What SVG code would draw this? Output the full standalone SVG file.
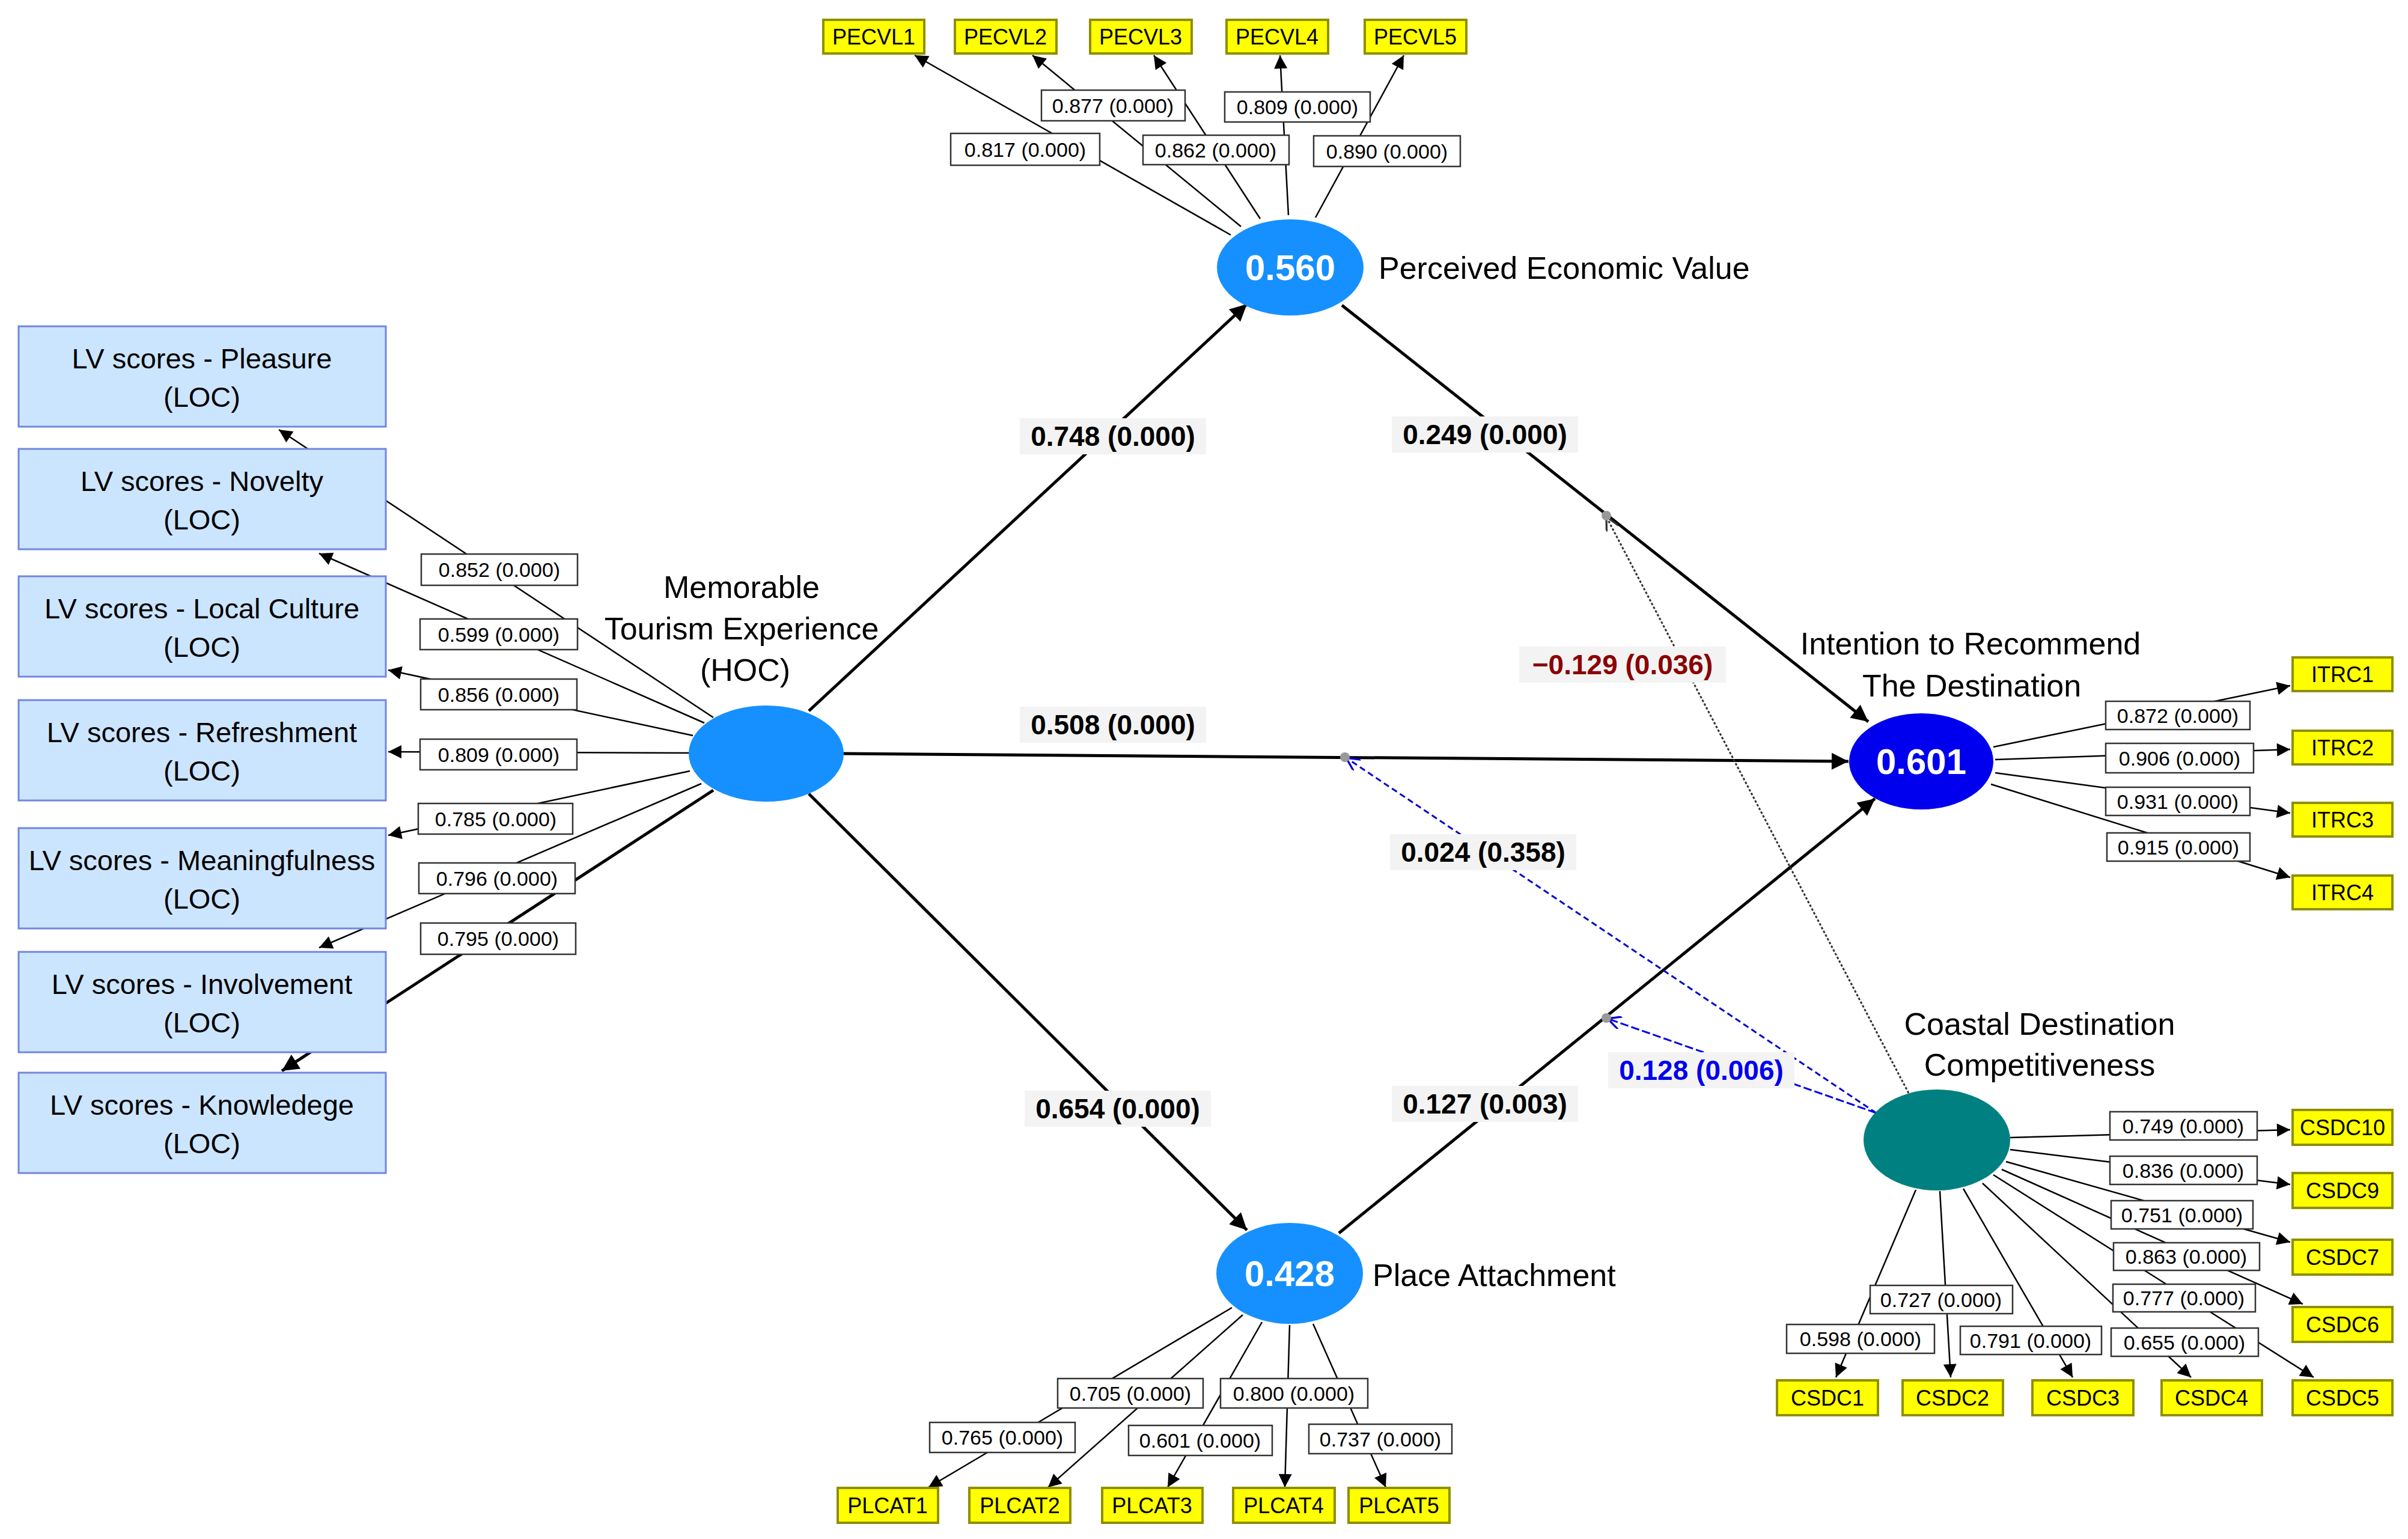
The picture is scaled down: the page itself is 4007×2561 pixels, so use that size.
<svg xmlns="http://www.w3.org/2000/svg" width="4007" height="2561" viewBox="0 0 4007 2561">
<defs>
<marker id="a" viewBox="0 0 10 10" refX="10" refY="5" markerWidth="30" markerHeight="22" markerUnits="userSpaceOnUse" orient="auto"><path d="M0,0 L10,5 L0,10 z" fill="#000"/></marker>
<marker id="b" viewBox="0 0 10 10" refX="10" refY="5" markerWidth="42" markerHeight="28" markerUnits="userSpaceOnUse" orient="auto"><path d="M0,0 L10,5 L0,10 z" fill="#000"/></marker>
<marker id="c" viewBox="0 0 10 10" refX="10" refY="5" markerWidth="30" markerHeight="22" markerUnits="userSpaceOnUse" orient="auto"><path d="M0,0 L10,5 L0,10" fill="none" stroke="#0000cc" stroke-width="1.5"/></marker>
<marker id="d" viewBox="0 0 10 10" refX="10" refY="5" markerWidth="30" markerHeight="22" markerUnits="userSpaceOnUse" orient="auto"><path d="M0,0 L10,5 L0,10" fill="none" stroke="#333" stroke-width="1.5"/></marker>
</defs>
<style>
text{font-family:"Liberation Sans",Arial,sans-serif;fill:#000}
.t{stroke:#000;stroke-width:2.5;fill:none;marker-end:url(#a)}
.k{stroke:#000;stroke-width:5;fill:none;marker-end:url(#b)}
.lb rect{fill:#fff;stroke:#333;stroke-width:2.5}
.lb text{font-size:34px;text-anchor:middle;dominant-baseline:central}
.pl rect{fill:#f3f3f3}
.pl text{font-size:46px;font-weight:bold;text-anchor:middle;dominant-baseline:central}
.lv rect{fill:#cce5ff;stroke:#7086e0;stroke-width:3}
.lv text{font-size:47px;text-anchor:middle;dominant-baseline:central}
.ind rect{fill:#ffff00;stroke:#8f8f00;stroke-width:4}
.ind text{font-size:36px;text-anchor:middle;dominant-baseline:central}
.r2{font-size:60px;font-weight:bold;fill:#fff;text-anchor:middle;dominant-baseline:central}
.nl{font-size:52px}
</style>
<rect width="4007" height="2561" fill="#fff"/>
<g id="connectors">
<line class="t" x1="1187" y1="1194" x2="464" y2="715"/>
<line class="t" x1="1172" y1="1203" x2="531" y2="921"/>
<line class="t" x1="1153" y1="1224" x2="646" y2="1115"/>
<line class="t" x1="1148" y1="1253" x2="646" y2="1251"/>
<line class="t" x1="1148" y1="1283" x2="646" y2="1390"/>
<line class="t" x1="1167" y1="1304" x2="531" y2="1577"/>
<line class="k" x1="1187" y1="1315" x2="469" y2="1782"/>
<line class="t" x1="2048" y1="391" x2="1522" y2="92"/>
<line class="t" x1="2065" y1="377" x2="1718" y2="92"/>
<line class="t" x1="2097" y1="364" x2="1920" y2="92"/>
<line class="t" x1="2144" y1="358" x2="2130" y2="92"/>
<line class="t" x1="2189" y1="362" x2="2336" y2="92"/>
<line class="t" x1="3317" y1="1243" x2="3811" y2="1141"/>
<line class="t" x1="3320" y1="1264" x2="3811" y2="1247"/>
<line class="t" x1="3320" y1="1286" x2="3811" y2="1353"/>
<line class="t" x1="3313" y1="1305" x2="3811" y2="1460"/>
<line class="t" x1="3345" y1="1893" x2="3811" y2="1880"/>
<line class="t" x1="3345" y1="1913" x2="3811" y2="1971"/>
<line class="t" x1="3338" y1="1933" x2="3811" y2="2067"/>
<line class="t" x1="3331" y1="1946" x2="3832" y2="2170"/>
<line class="t" x1="3317" y1="1955" x2="3850" y2="2292"/>
<line class="t" x1="3299" y1="1969" x2="3646" y2="2292"/>
<line class="t" x1="3267" y1="1978" x2="3449" y2="2292"/>
<line class="t" x1="3228" y1="1982" x2="3246" y2="2292"/>
<line class="t" x1="3188" y1="1980" x2="3055" y2="2292"/>
<line class="t" x1="2050" y1="2176" x2="1545" y2="2475"/>
<line class="t" x1="2068" y1="2188" x2="1744" y2="2475"/>
<line class="t" x1="2100" y1="2200" x2="1943" y2="2475"/>
<line class="t" x1="2146" y1="2205" x2="2138" y2="2475"/>
<line class="t" x1="2185" y1="2203" x2="2306" y2="2475"/>
<line class="k" x1="1346" y1="1183" x2="2075" y2="506"/>
<line class="k" x1="1403" y1="1254" x2="3076" y2="1267"/>
<line class="k" x1="1346" y1="1321" x2="2075" y2="2047"/>
<line class="k" x1="2233" y1="508" x2="3109" y2="1201"/>
<line class="k" x1="2228" y1="2052" x2="3120" y2="1329"/>
<line x1="3176" y1="1819" x2="2673" y2="860" stroke="#333" stroke-width="3" stroke-dasharray="4 3" marker-end="url(#d)"/>
<line x1="3122" y1="1852" x2="2240" y2="1261" stroke="#0000cc" stroke-width="3" stroke-dasharray="10 6" marker-end="url(#c)"/>
<line x1="3122" y1="1852" x2="2675" y2="1695" stroke="#0000ee" stroke-width="3" stroke-dasharray="14 5" marker-end="url(#c)"/>
<circle cx="2673" cy="858" r="8" fill="#999"/>
<circle cx="2238" cy="1260" r="8" fill="#999"/>
<circle cx="2673" cy="1694" r="8" fill="#999"/>
<g class="lb">
<rect x="701" y="922" width="260" height="52"/><text x="831" y="948">0.852 (0.000)</text>
<rect x="699" y="1030" width="262" height="51"/><text x="830" y="1056">0.599 (0.000)</text>
<rect x="700" y="1130" width="260" height="51"/><text x="830" y="1156">0.856 (0.000)</text>
<rect x="699" y="1230" width="261" height="51"/><text x="830" y="1256">0.809 (0.000)</text>
<rect x="696" y="1337" width="257" height="51"/><text x="825" y="1363">0.785 (0.000)</text>
<rect x="697" y="1436" width="260" height="51"/><text x="827" y="1462">0.796 (0.000)</text>
<rect x="700" y="1536" width="258" height="52"/><text x="829" y="1562">0.795 (0.000)</text>
<rect x="1582" y="222" width="248" height="53"/><text x="1706" y="249">0.817 (0.000)</text>
<rect x="1733" y="150" width="239" height="51"/><text x="1852" y="176">0.877 (0.000)</text>
<rect x="1902" y="225" width="243" height="49"/><text x="2023" y="250">0.862 (0.000)</text>
<rect x="2038" y="153" width="242" height="50"/><text x="2159" y="178">0.809 (0.000)</text>
<rect x="2186" y="226" width="244" height="51"/><text x="2308" y="252">0.890 (0.000)</text>
<rect x="3504" y="1167" width="240" height="47"/><text x="3624" y="1191">0.872 (0.000)</text>
<rect x="3504" y="1237" width="246" height="49"/><text x="3627" y="1262">0.906 (0.000)</text>
<rect x="3504" y="1310" width="240" height="47"/><text x="3624" y="1334">0.931 (0.000)</text>
<rect x="3506" y="1386" width="238" height="47"/><text x="3625" y="1410">0.915 (0.000)</text>
<rect x="3511" y="1850" width="245" height="47"/><text x="3633" y="1874">0.749 (0.000)</text>
<rect x="3511" y="1924" width="245" height="47"/><text x="3633" y="1948">0.836 (0.000)</text>
<rect x="3513" y="1998" width="236" height="47"/><text x="3631" y="2022">0.751 (0.000)</text>
<rect x="3517" y="2068" width="243" height="46"/><text x="3638" y="2091">0.863 (0.000)</text>
<rect x="3516" y="2137" width="237" height="46"/><text x="3634" y="2160">0.777 (0.000)</text>
<rect x="3513" y="2210" width="245" height="47"/><text x="3635" y="2234">0.655 (0.000)</text>
<rect x="3112" y="2139" width="237" height="47"/><text x="3230" y="2163">0.727 (0.000)</text>
<rect x="2973" y="2204" width="246" height="48"/><text x="3096" y="2228">0.598 (0.000)</text>
<rect x="3262" y="2207" width="235" height="47"/><text x="3379" y="2231">0.791 (0.000)</text>
<rect x="1760" y="2294" width="242" height="49"/><text x="1881" y="2319">0.705 (0.000)</text>
<rect x="2031" y="2294" width="245" height="49"/><text x="2153" y="2319">0.800 (0.000)</text>
<rect x="1547" y="2367" width="242" height="50"/><text x="1668" y="2392">0.765 (0.000)</text>
<rect x="1878" y="2372" width="239" height="50"/><text x="1997" y="2397">0.601 (0.000)</text>
<rect x="2178" y="2370" width="238" height="49"/><text x="2297" y="2395">0.737 (0.000)</text>
</g>
<g class="pl">
<rect x="1697" y="696" width="310" height="60"/><text x="1852" y="726">0.748 (0.000)</text>
<rect x="1697" y="1176" width="310" height="60"/><text x="1852" y="1206">0.508 (0.000)</text>
<rect x="1705" y="1815" width="310" height="60"/><text x="1860" y="1845">0.654 (0.000)</text>
<rect x="2316" y="693" width="310" height="60"/><text x="2471" y="723">0.249 (0.000)</text>
<rect x="2316" y="1807" width="310" height="60"/><text x="2471" y="1837">0.127 (0.003)</text>
<rect x="2313" y="1388" width="310" height="60"/><text x="2468" y="1418">0.024 (0.358)</text>
<rect x="2528" y="1076" width="344" height="60"/><text x="2700" y="1106" style="fill:#8b0000">−0.129 (0.036)</text>
<rect x="2676" y="1751" width="310" height="60"/><text x="2831" y="1781" style="fill:#0000ee">0.128 (0.006)</text>
</g>
</g>
<g id="MTE"><ellipse cx="1275" cy="1254" rx="129" ry="80" fill="#1690ff"/><text class="nl" x="1234" y="995" text-anchor="middle">Memorable</text><text class="nl" x="1234" y="1064" text-anchor="middle">Tourism Experience</text><text class="nl" x="1240" y="1133" text-anchor="middle">(HOC)</text></g>
<g id="PEV"><ellipse cx="2147" cy="445" rx="122" ry="80" fill="#1690ff"/><text class="r2" x="2147" y="445">0.560</text><text class="nl" x="2294" y="464">Perceived Economic Value</text></g>
<g id="PA"><ellipse cx="2146" cy="2119" rx="122" ry="84" fill="#1690ff"/><text class="r2" x="2146" y="2119">0.428</text><text class="nl" x="2284" y="2140">Place Attachment</text></g>
<g id="ITR"><ellipse cx="3197" cy="1267" rx="120" ry="80" fill="#0000ee"/><text class="r2" x="3197" y="1267">0.601</text><text class="nl" x="3279" y="1089" text-anchor="middle">Intention to Recommend</text><text class="nl" x="3281" y="1159" text-anchor="middle">The Destination</text></g>
<g id="CDC"><ellipse cx="3223" cy="1897" rx="122" ry="84" fill="#008080"/><text class="nl" x="3394" y="1722" text-anchor="middle">Coastal Destination</text><text class="nl" x="3394" y="1790" text-anchor="middle">Competitiveness</text></g>
<g class="lv">
<g id="Pleasure"><rect x="31" y="543" width="611" height="167"/><text x="336" y="596">LV scores - Pleasure</text><text x="336" y="660">(LOC)</text></g>
<g id="Novelty"><rect x="31" y="747" width="611" height="167"/><text x="336" y="800">LV scores - Novelty</text><text x="336" y="864">(LOC)</text></g>
<g id="LocalCulture"><rect x="31" y="959" width="611" height="167"/><text x="336" y="1012">LV scores - Local Culture</text><text x="336" y="1076">(LOC)</text></g>
<g id="Refreshment"><rect x="31" y="1165" width="611" height="167"/><text x="336" y="1218">LV scores - Refreshment</text><text x="336" y="1282">(LOC)</text></g>
<g id="Meaningfulness"><rect x="31" y="1378" width="611" height="167"/><text x="336" y="1431">LV scores - Meaningfulness</text><text x="336" y="1495">(LOC)</text></g>
<g id="Involvement"><rect x="31" y="1584" width="611" height="167"/><text x="336" y="1637">LV scores - Involvement</text><text x="336" y="1701">(LOC)</text></g>
<g id="Knowledge"><rect x="31" y="1785" width="611" height="167"/><text x="336" y="1838">LV scores - Knowledege</text><text x="336" y="1902">(LOC)</text></g>
</g>
<g class="ind">
<g id="PECVL1"><rect x="1370" y="33" width="168" height="56"/><text x="1454" y="61">PECVL1</text></g>
<g id="PECVL2"><rect x="1589" y="33" width="169" height="56"/><text x="1673" y="61">PECVL2</text></g>
<g id="PECVL3"><rect x="1814" y="33" width="169" height="56"/><text x="1898" y="61">PECVL3</text></g>
<g id="PECVL4"><rect x="2041" y="33" width="169" height="56"/><text x="2125" y="61">PECVL4</text></g>
<g id="PECVL5"><rect x="2271" y="33" width="169" height="56"/><text x="2355" y="61">PECVL5</text></g>
<g id="ITRC1"><rect x="3815" y="1094" width="166" height="56"/><text x="3898" y="1122">ITRC1</text></g>
<g id="ITRC2"><rect x="3815" y="1216" width="166" height="56"/><text x="3898" y="1244">ITRC2</text></g>
<g id="ITRC3"><rect x="3815" y="1336" width="166" height="56"/><text x="3898" y="1364">ITRC3</text></g>
<g id="ITRC4"><rect x="3815" y="1457" width="166" height="56"/><text x="3898" y="1485">ITRC4</text></g>
<g id="CSDC10"><rect x="3815" y="1847" width="166" height="58"/><text x="3898" y="1876">CSDC10</text></g>
<g id="CSDC9"><rect x="3815" y="1952" width="166" height="58"/><text x="3898" y="1981">CSDC9</text></g>
<g id="CSDC7"><rect x="3815" y="2063" width="166" height="58"/><text x="3898" y="2092">CSDC7</text></g>
<g id="CSDC6"><rect x="3815" y="2175" width="166" height="58"/><text x="3898" y="2204">CSDC6</text></g>
<g id="CSDC5"><rect x="3815" y="2297" width="166" height="58"/><text x="3898" y="2326">CSDC5</text></g>
<g id="CSDC4"><rect x="3597" y="2297" width="167" height="58"/><text x="3680" y="2326">CSDC4</text></g>
<g id="CSDC3"><rect x="3382" y="2297" width="168" height="58"/><text x="3466" y="2326">CSDC3</text></g>
<g id="CSDC2"><rect x="3166" y="2297" width="167" height="58"/><text x="3249" y="2326">CSDC2</text></g>
<g id="CSDC1"><rect x="2957" y="2297" width="168" height="58"/><text x="3041" y="2326">CSDC1</text></g>
<g id="PLCAT1"><rect x="1394" y="2476" width="167" height="58"/><text x="1477" y="2505">PLCAT1</text></g>
<g id="PLCAT2"><rect x="1613" y="2476" width="168" height="58"/><text x="1697" y="2505">PLCAT2</text></g>
<g id="PLCAT3"><rect x="1834" y="2476" width="167" height="58"/><text x="1917" y="2505">PLCAT3</text></g>
<g id="PLCAT4"><rect x="2052" y="2476" width="169" height="58"/><text x="2136" y="2505">PLCAT4</text></g>
<g id="PLCAT5"><rect x="2244" y="2476" width="168" height="58"/><text x="2328" y="2505">PLCAT5</text></g>
</g>
</svg>
